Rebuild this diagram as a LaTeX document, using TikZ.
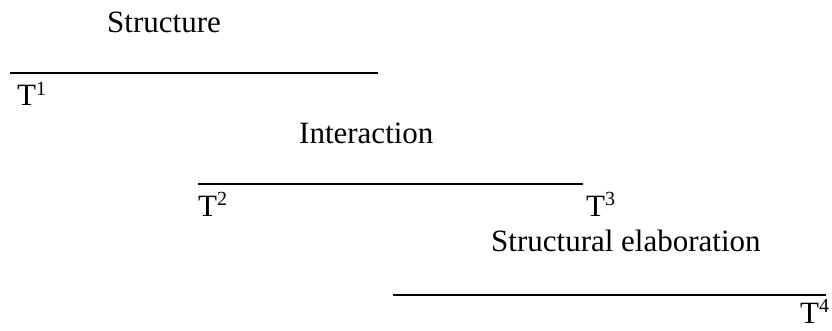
\documentclass[tikz,border=0pt]{standalone}
\usepackage{fontspec}
\setmainfont{Liberation Serif}
\newcommand{\supnum}[1]{\raisebox{0.34em}{\fontsize{20}{20}\selectfont #1}}
\begin{document}
\begin{tikzpicture}[x=1pt,y=1pt,
  lbl/.style={inner sep=0pt, anchor=base west, font=\fontsize{31}{37}\selectfont},
  rule/.style={line width=2pt, black}]
\useasboundingbox (0,0) rectangle (832,-331);
% level 1
\node[lbl] (s1) at (107,-33) {Structure};
\coordinate (a1) at (10,-73);
\coordinate (b1) at (378,-73);
\draw[rule] (a1) -- (b1);
\node[lbl] (t1) at (17,-106) {T\supnum{1}};
% level 2
\node[lbl] (s2) at (299,-144) {Interaction};
\coordinate (a2) at (198,-184);
\coordinate (b2) at (583,-184);
\draw[rule] (a2) -- (b2);
\node[lbl] (t2) at (198,-216) {T\supnum{2}};
\node[lbl] (t3) at (586,-216) {T\supnum{3}};
% level 3
\node[lbl] (s3) at (491,-251) {Structural elaboration};
\coordinate (a3) at (393,-295);
\coordinate (b3) at (826,-295);
\draw[rule] (a3) -- (b3);
\node[lbl] (t4) at (800,-323) {T\supnum{4}};
\end{tikzpicture}
\end{document}
